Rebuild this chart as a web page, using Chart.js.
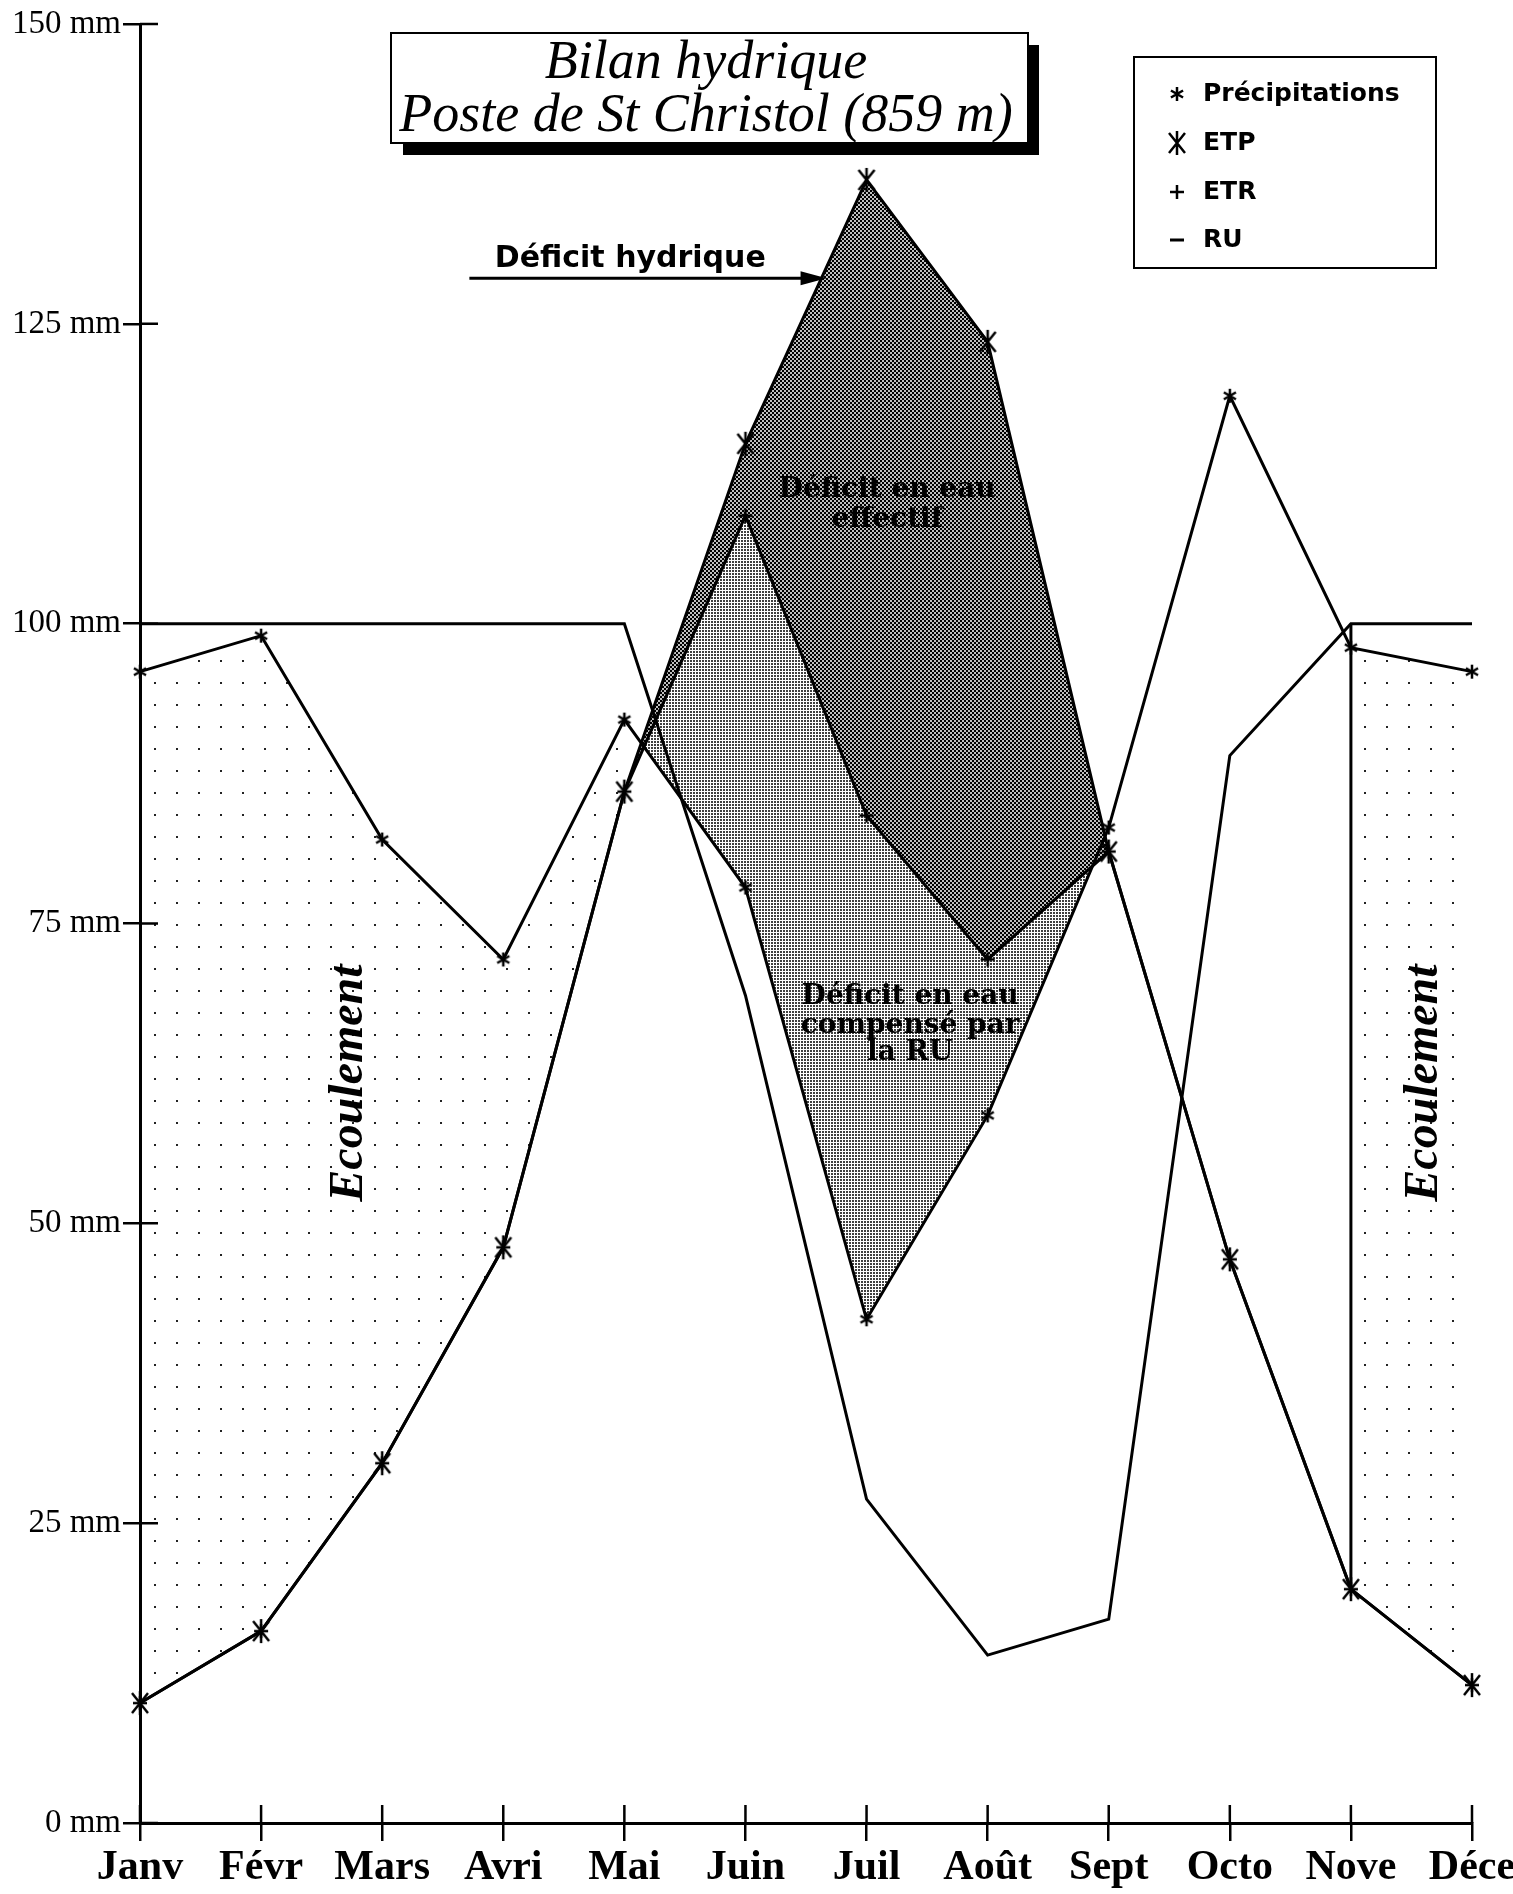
<!DOCTYPE html>
<html lang="fr">
<head>
<meta charset="utf-8">
<title>Bilan hydrique - Poste de St Christol</title>
<script src="https://cdn.jsdelivr.net/npm/chart.js@4.4.1/dist/chart.umd.min.js"></script>
<style>
    html, body { margin: 0; padding: 0; background: #fff; }
    #wrap { width: 1513px; height: 1894px; position: relative; }
</style>
</head>
<body>
<div id="wrap"><canvas id="bilan"></canvas></div>
<script>
// --- Données (mm) ---
const mois = ['Janv', 'Févr', 'Mars', 'Avri', 'Mai', 'Juin', 'Juil', 'Août', 'Sept', 'Octo', 'Nove', 'Déce'];
const precipitations = [96, 99, 82, 72, 92, 78, 42, 59, 83, 119, 98, 96];
const etp = [10, 16, 30, 48, 86, 115, 137, 123.5, 81, 47, 19.5, 11.5];
const etr = [10, 16, 30, 48, 86, 109, 84, 72, 81, 47, 19.5, 11.5];
const ru = [100, 100, 100, 100, 100, 69, 27, 14, 17, 89, 100, 100];
const moisEcoulement = [0, 1, 2, 3, 4, 10, 11];
const yTicks = [0, 25, 50, 75, 100, 125, 150];

// --- Trames (halftone) ---
function trame(w, h, draw) {
    const c = document.createElement('canvas');
    c.width = w; c.height = h;
    draw(c.getContext('2d'));
    return c.getContext('2d').createPattern(c, 'repeat');
}
const trameFoncee = trame(4, 4, g => {
    g.fillStyle = 'rgba(0,0,0,0.25)';
    g.fillRect(0, 0, 4, 4);
    g.fillStyle = '#000';
    g.fillRect(0, 0, 2, 2);
    g.fillRect(2, 2, 2, 2);
});
const trameClaire = trame(3, 3, g => {
    g.fillStyle = 'rgba(0,0,0,0.75)';
    g.fillRect(0, 0, 2, 2);
});
const trameEcoulement = trame(22, 22, g => {
    g.fillStyle = '#222';
    g.fillRect(0, 0, 2, 2);
});

// --- Marqueurs ---
function marqueur(w, h, lw, draw) {
    const c = document.createElement('canvas');
    c.width = w; c.height = h;
    const g = c.getContext('2d');
    g.strokeStyle = '#000';
    g.lineWidth = lw;
    g.beginPath();
    draw(g, w, h);
    g.stroke();
    return c;
}
const ptAsterisque = marqueur(16, 16, 2.5, (g, w, h) => {
    for (const a of [90, 30, 150]) {
        const r = a * Math.PI / 180;
        g.moveTo(8 - 7 * Math.cos(r), 8 - 7 * Math.sin(r));
        g.lineTo(8 + 7 * Math.cos(r), 8 + 7 * Math.sin(r));
    }
});
const ptEtp = marqueur(20, 26, 2.5, (g, w, h) => {
    g.moveTo(w / 2, 1); g.lineTo(w / 2, h - 1);
    g.moveTo(2, 3); g.lineTo(w - 2, h - 3);
    g.moveTo(w - 2, 3); g.lineTo(2, h - 3);
});
const ptEtr = marqueur(16, 16, 2.5, (g, w, h) => {
    g.moveTo(8, 1); g.lineTo(8, 15);
    g.moveTo(1, 8); g.lineTo(15, 8);
});
const ptRu = marqueur(16, 6, 3, (g, w, h) => {
    g.moveTo(1, 3); g.lineTo(15, 3);
});

const ecoulement = precipitations.map((v, i) => moisEcoulement.includes(i) ? v : null);

// --- Habillage: titre, légende, annotations, graduations croisées ---
const habillage = {
    id: 'habillage',
    afterDatasetsDraw(chart) {
        const ctx = chart.ctx;
        const { x, y } = chart.scales;
        const area = chart.chartArea;
        ctx.save();
        ctx.strokeStyle = '#000';
        ctx.fillStyle = '#000';

        // demi-graduations à l'intérieur
        ctx.lineWidth = 2.5;
        ctx.beginPath();
        yTicks.forEach(v => {
            const py = y.getPixelForValue(v);
            ctx.moveTo(area.left, py);
            ctx.lineTo(area.left + 18, py);
        });
        mois.forEach((m, i) => {
            const px = x.getPixelForValue(i);
            ctx.moveTo(px, area.bottom);
            ctx.lineTo(px, area.bottom - 18);
        });
        ctx.stroke();

        // bord vertical de l'écoulement (Nove)
        const iN = mois.indexOf('Nove');
        ctx.lineWidth = 3;
        ctx.beginPath();
        ctx.moveTo(x.getPixelForValue(iN), y.getPixelForValue(ru[iN]));
        ctx.lineTo(x.getPixelForValue(iN), y.getPixelForValue(etp[iN]));
        ctx.stroke();

        // Déficit hydrique + flèche
        ctx.font = 'bold 30px "DejaVu Sans"';
        ctx.textAlign = 'left';
        ctx.textBaseline = 'alphabetic';
        ctx.fillText('Déficit hydrique', x.getPixelForValue(2.93), y.getPixelForValue(129.7));
        const ay = y.getPixelForValue(128.8);
        const ax0 = x.getPixelForValue(2.72), ax1 = x.getPixelForValue(5.67);
        ctx.lineWidth = 3;
        ctx.beginPath();
        ctx.moveTo(ax0, ay);
        ctx.lineTo(ax1 - 20, ay);
        ctx.stroke();
        ctx.beginPath();
        ctx.moveTo(ax1, ay);
        ctx.lineTo(ax1 - 26, ay - 7);
        ctx.lineTo(ax1 - 26, ay + 7);
        ctx.closePath();
        ctx.fill();

        // textes des zones
        ctx.textAlign = 'center';
        ctx.textBaseline = 'middle';
        ctx.font = 'bold 28px "DejaVu Serif"';
        ctx.fillText('Déficit en eau', x.getPixelForValue(6.17), y.getPixelForValue(111.2));
        ctx.fillText('effectif', x.getPixelForValue(6.17), y.getPixelForValue(108.7));
        ctx.fillText('Déficit en eau', x.getPixelForValue(6.36), y.getPixelForValue(68.9));
        ctx.fillText('compensé par', x.getPixelForValue(6.36), y.getPixelForValue(66.5));
        ctx.fillText('la RU', x.getPixelForValue(6.36), y.getPixelForValue(64.2));

        ctx.font = 'italic bold 48px "Liberation Serif"';
        [1.73, 10.61].forEach(i => {
            ctx.save();
            ctx.translate(x.getPixelForValue(i), y.getPixelForValue(61.7));
            ctx.rotate(-Math.PI / 2);
            ctx.fillText('Ecoulement', 0, 0);
            ctx.restore();
        });
        ctx.restore();
    },
    afterDraw(chart) {
        const ctx = chart.ctx;
        ctx.save();
        // cadre du titre avec ombre
        ctx.fillStyle = '#000';
        ctx.fillRect(403, 45, 636, 110);
        ctx.fillStyle = '#fff';
        ctx.fillRect(391, 33, 637, 110);
        ctx.strokeStyle = '#000';
        ctx.lineWidth = 2;
        ctx.strokeRect(391, 33, 637, 110);
        ctx.fillStyle = '#000';
        ctx.textAlign = 'center';
        ctx.textBaseline = 'alphabetic';
        ctx.font = 'italic 54px "Liberation Serif"';
        ctx.fillText('Bilan hydrique', 706, 78);
        ctx.fillText('Poste de St Christol (859 m)', 706, 131);

        // légende
        ctx.lineWidth = 2;
        ctx.strokeRect(1134, 57, 302, 211);
        const items = [
            ['Précipitations', ptAsterisque, 94],
            ['ETP', ptEtp, 143],
            ['ETR', ptEtr, 192],
            ['RU', ptRu, 240]
        ];
        ctx.font = 'bold 25px "DejaVu Sans"';
        ctx.textAlign = 'left';
        ctx.textBaseline = 'middle';
        items.forEach(([txt, img, yc]) => {
            ctx.drawImage(img, 1177 - img.width / 2, yc - img.height / 2);
            ctx.fillText(txt, 1203, yc);
        });
        ctx.restore();
    }
};

const ligne = {
    borderColor: '#000',
    borderWidth: 3,
    tension: 0,
    pointRadius: 5,
    clip: false
};

new Chart(document.getElementById('bilan'), {
    type: 'line',
    data: {
        labels: mois,
        datasets: [
            { ...ligne, label: 'Précipitations', data: precipitations, pointStyle: ptAsterisque, fill: false },
            { ...ligne, label: 'ETP', data: etp, pointStyle: ptEtp,
              fill: { target: 2, above: trameFoncee, below: 'transparent' } },
            { ...ligne, label: 'ETR', data: etr, pointStyle: ptEtr,
              fill: { target: 0, above: trameClaire, below: 'transparent' } },
            { ...ligne, label: 'RU', data: ru, pointRadius: 0, fill: false },
            { label: 'Ecoulement', data: ecoulement, borderWidth: 0, borderColor: 'transparent',
              pointRadius: 0, spanGaps: false,
              fill: { target: 1, above: trameEcoulement, below: 'transparent' } }
        ]
    },
    options: {
        responsive: true,
        maintainAspectRatio: false,
        animation: false,
        events: [],
        layout: { padding: { top: 24, right: 41, bottom: 0, left: 0 } },
        plugins: {
            legend: { display: false },
            tooltip: { enabled: false }
        },
        scales: {
            x: {
                offset: false,
                grid: { drawOnChartArea: false, color: '#000', lineWidth: 2.5, tickLength: 18 },
                border: { color: '#000', width: 3 },
                ticks: {
                    color: '#000',
                    font: { family: 'Liberation Serif', size: 42, weight: 'bold' },
                    padding: 2,
                    maxRotation: 0,
                    autoSkip: false
                },
                afterFit: s => { s.height = 71; s.paddingLeft = 0; s.paddingRight = 0; }
            },
            y: {
                min: 0,
                max: 150,
                afterBuildTicks: s => { s.ticks = yTicks.map(v => ({ value: v })); },
                grid: { drawOnChartArea: false, color: '#000', lineWidth: 2.5, tickLength: 17 },
                border: { color: '#000', width: 3 },
                ticks: {
                    color: '#000',
                    font: { family: 'Liberation Serif', size: 33 },
                    padding: 2,
                    callback: v => v + ' mm'
                },
                afterFit: s => { s.width = 140; }
            }
        }
    },
    plugins: [habillage]
});
</script>
</body>
</html>
